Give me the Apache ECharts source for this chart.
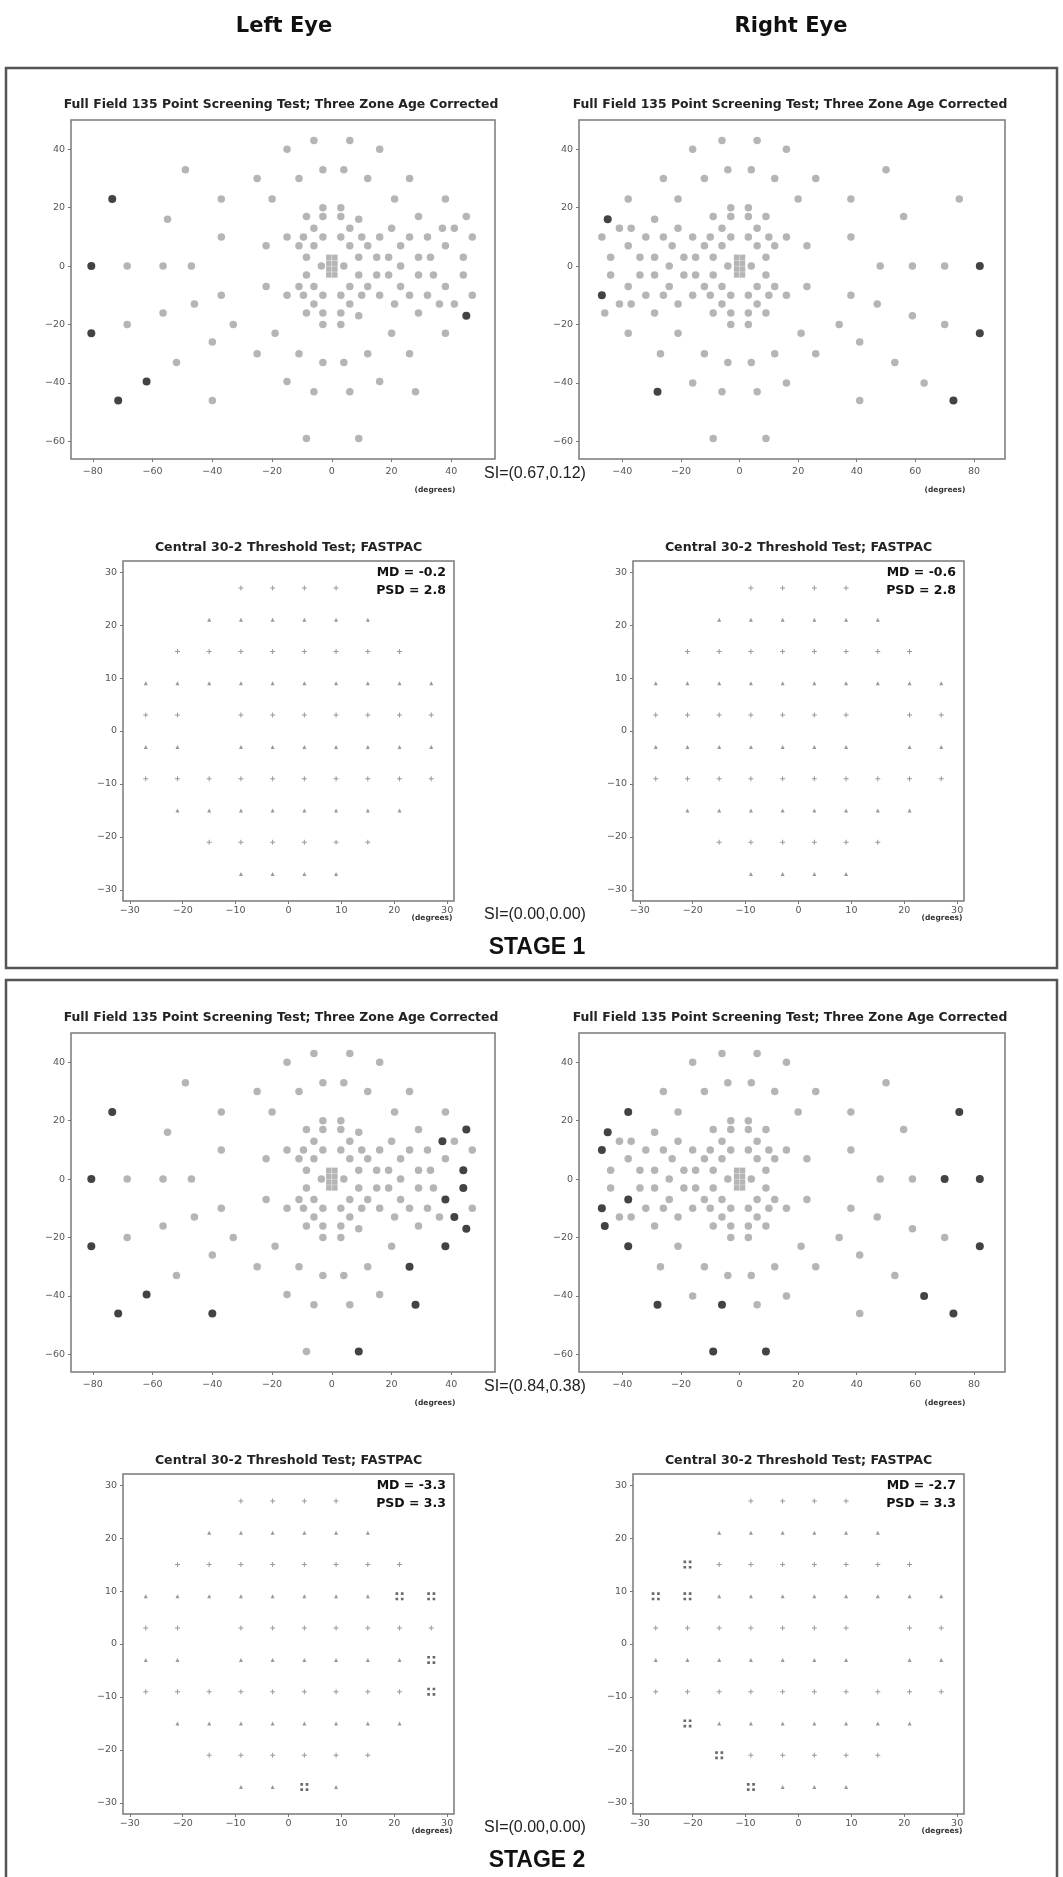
<!DOCTYPE html>
<html><head><meta charset="utf-8">
<script src="https://cdn.jsdelivr.net/npm/echarts@6/dist/echarts.min.js"></script>
<style>html,body{margin:0;padding:0;background:#fff}#c{width:1063px;height:1877px}</style>
</head><body><div id="c"></div><script>
// ---------- DATA ----------
const eyeLabels = ['Left Eye', 'Right Eye'];
const stageLabels = ['STAGE 1', 'STAGE 2'];
const ffTitle = 'Full Field 135 Point Screening Test; Three Zone Age Corrected';
const c30Title = 'Central 30-2 Threshold Test; FASTPAC';
const siFullField = ['SI=(0.67,0.12)', 'SI=(0.84,0.38)'];
const siCentral = ['SI=(0.00,0.00)', 'SI=(0.00,0.00)'];
// [stage][eye]
const mdValues = [['-0.2', '-0.6'], ['-3.3', '-2.7']];
const psdValues = [['2.8', '2.8'], ['3.3', '3.3']];

const ffLeftXTicks = [-80, -60, -40, -20, 0, 20, 40];
const ffRightXTicks = [-40, -20, 0, 20, 40, 60, 80];
const ffYTicks = [-60, -40, -20, 0, 20, 40];
const c30Ticks = [-30, -20, -10, 0, 10, 20, 30];

const ffLeftPoints = [
[-6,43],[6,43],[-15,40],[16,40],[-49,33],[-3,33],[4,33],
[-25,30],[-11,30],[12,30],[26,30],
[-73.5,23],[-37,23],[-20,23],[21,23],[38,23],
[-3,20],[3,20],
[-8.5,17],[-3,17],[3,17],[9,16],[-55,16],[29,17],[45,17],
[-6,13],[6,13],[20,13],[37,13],[41,13],
[-37,10],[-15,10],[-9.5,10],[-3,10],[3,10],[10,10],[16,10],[26,10],[32,10],[47,10],
[-22,7],[-11,7],[-6,7],[6,7],[12,7],[23,7],[38,7],
[-8.5,3],[9,3],[15,3],[19,3],[29,3],[33,3],[44,3],
[-80.5,0],[-68.5,0],[-56.5,0],[-47,0],[-3.5,0],[4,0],[23,0],
[-8.5,-3],[9,-3],[15,-3],[19,-3],[29,-3],[34,-3],[44,-3],
[-22,-7],[-11,-7],[-6,-7],[6,-7],[12,-7],[23,-7],[38,-7],
[-37,-10],[-15,-10],[-9.5,-10],[-3,-10],[3,-10],[10,-10],[16,-10],[26,-10],[32,-10],[47,-10],
[-46,-13],[-6,-13],[6,-13],[21,-13],[36,-13],[41,-13],
[-56.5,-16],[-8.5,-16],[-3,-16],[3,-16],[9,-17],[29,-16],[45,-17],
[-68.5,-20],[-33,-20],[-3,-20],[3,-20],
[-80.5,-23],[-19,-23],[20,-23],[38,-23],
[-40,-26],
[-25,-30],[-11,-30],[12,-30],[26,-30],
[-52,-33],[-3,-33],[4,-33],
[-62,-39.5],[-15,-39.5],[16,-39.5],
[-6,-43],[6,-43],[28,-43],
[-71.5,-46],[-40,-46],
[-8.5,-59],[9,-59]
];
const ffRightPoints = [
[-6,43],[6,43],[-16,40],[16,40],[-4,33],[4,33],[50,33],
[-26,30],[-12,30],[12,30],[26,30],
[-38,23],[-21,23],[20,23],[38,23],[75,23],
[-3,20],[3,20],
[-9,17],[-3,17],[3,17],[9,17],[56,17],[-45,16],[-29,16],
[-41,13],[-37,13],[-21,13],[-6,13],[6,13],
[-47,10],[-32,10],[-26,10],[-16,10],[-10,10],[-3,10],[3,10],[10,10],[16,10],[38,10],
[-38,7],[-23,7],[-12,7],[-6,7],[6,7],[12,7],[23,7],
[-44,3],[-34,3],[-29,3],[-19,3],[-15,3],[-9,3],[9,3],
[-24,0],[-4,0],[4,0],[48,0],[59,0],[70,0],[82,0],
[-44,-3],[-34,-3],[-29,-3],[-19,-3],[-15,-3],[-9,-3],[9,-3],
[-38,-7],[-24,-7],[-12,-7],[-6,-7],[6,-7],[12,-7],[23,-7],
[-47,-10],[-32,-10],[-26,-10],[-16,-10],[-10,-10],[-3,-10],[3,-10],[10,-10],[16,-10],[38,-10],
[-41,-13],[-37,-13],[-21,-13],[-6,-13],[6,-13],[47,-13],
[-46,-16],[-29,-16],[-9,-16],[-3,-16],[3,-16],[9,-16],[59,-17],
[-3,-20],[3,-20],[34,-20],[70,-20],
[-38,-23],[-21,-23],[21,-23],[82,-23],
[41,-26],
[-27,-30],[-12,-30],[12,-30],[26,-30],
[-4,-33],[4,-33],[53,-33],
[-16,-40],[16,-40],[63,-40],
[-28,-43],[-6,-43],[6,-43],
[41,-46],[73,-46],
[-9,-59],[9,-59]
];
const ffCenterPoints = [[-1,-3],[-1,-1],[-1,1],[-1,3],[1,-3],[1,-1],[1,1],[1,3]];

const ffLeftAbnStage1 = [[-73.5,23],[-80.5,0],[-80.5,-23],[-62,-39.5],[-71.5,-46],[45,-17]];
const ffRightAbnStage1 = [[-45,16],[-47,-10],[82,0],[82,-23],[-28,-43],[73,-46]];
const ffLeftAbnStage2 = [[-73.5,23],[-80.5,0],[-80.5,-23],[-62,-39.5],[-71.5,-46],[-40,-46],[9,-59],
  [45,17],[37,13],[44,3],[44,-3],[38,-7],[41,-13],[45,-17],[38,-23],[26,-30],[28,-43]];
const ffRightAbnStage2 = [[-38,23],[-45,16],[-47,10],[-38,-7],[-47,-10],[-46,-16],[-38,-23],[-28,-43],
  [-6,-43],[-9,-59],[9,-59],[75,23],[70,0],[82,0],[82,-23],[63,-40],[73,-46]];

const c30LeftPoints = [
[-9,27],[-3,27],[3,27],[9,27],
[-15,21],[-9,21],[-3,21],[3,21],[9,21],[15,21],
[-21,15],[-15,15],[-9,15],[-3,15],[3,15],[9,15],[15,15],[21,15],
[-27,9],[-21,9],[-15,9],[-9,9],[-3,9],[3,9],[9,9],[15,9],[21,9],[27,9],
[-27,3],[-21,3],[-9,3],[-3,3],[3,3],[9,3],[15,3],[21,3],[27,3],
[-27,-3],[-21,-3],[-9,-3],[-3,-3],[3,-3],[9,-3],[15,-3],[21,-3],[27,-3],
[-27,-9],[-21,-9],[-15,-9],[-9,-9],[-3,-9],[3,-9],[9,-9],[15,-9],[21,-9],[27,-9],
[-21,-15],[-15,-15],[-9,-15],[-3,-15],[3,-15],[9,-15],[15,-15],[21,-15],
[-15,-21],[-9,-21],[-3,-21],[3,-21],[9,-21],[15,-21],
[-9,-27],[-3,-27],[3,-27],[9,-27]
];
const c30RightPoints = [
[-9,27],[-3,27],[3,27],[9,27],
[-15,21],[-9,21],[-3,21],[3,21],[9,21],[15,21],
[-21,15],[-15,15],[-9,15],[-3,15],[3,15],[9,15],[15,15],[21,15],
[-27,9],[-21,9],[-15,9],[-9,9],[-3,9],[3,9],[9,9],[15,9],[21,9],[27,9],
[-27,3],[-21,3],[-15,3],[-9,3],[-3,3],[3,3],[9,3],[21,3],[27,3],
[-27,-3],[-21,-3],[-15,-3],[-9,-3],[-3,-3],[3,-3],[9,-3],[21,-3],[27,-3],
[-27,-9],[-21,-9],[-15,-9],[-9,-9],[-3,-9],[3,-9],[9,-9],[15,-9],[21,-9],[27,-9],
[-21,-15],[-15,-15],[-9,-15],[-3,-15],[3,-15],[9,-15],[15,-15],[21,-15],
[-15,-21],[-9,-21],[-3,-21],[3,-21],[9,-21],[15,-21],
[-9,-27],[-3,-27],[3,-27],[9,-27]
];
const c30LeftAbnStage1 = [];
const c30RightAbnStage1 = [];
const c30LeftAbnStage2 = [[21,9],[27,9],[27,-3],[27,-9],[3,-27]];
const c30RightAbnStage2 = [[-21,15],[-27,9],[-21,9],[-21,-15],[-15,-21],[-9,-27]];

// ---------- LAYOUT ----------
const STAGE_DY = 913;
const FF_TOP = 120, FF_H = 339;
const C30_TOP = 561, C30_H = 340;
const panelsLayout = [
  {kind:'ff', eye:0, left:71, width:424, xmin:-87.3, xmax:54.6, xticks:ffLeftXTicks},
  {kind:'ff', eye:1, left:579, width:426, xmin:-54.8, xmax:90.6, xticks:ffRightXTicks},
  {kind:'c30', eye:0, left:123, width:331},
  {kind:'c30', eye:1, left:633, width:331}
];
const ffPoints = [ffLeftPoints, ffRightPoints];
const ffAbn = [[ffLeftAbnStage1, ffRightAbnStage1], [ffLeftAbnStage2, ffRightAbnStage2]];
const c30Points = [c30LeftPoints, c30RightPoints];
const c30Abn = [[c30LeftAbnStage1, c30RightAbnStage1], [c30LeftAbnStage2, c30RightAbnStage2]];

const fmt = v => (v < 0 ? '\u2212' + (-v) : String(v));
const same = (a, b) => a[0] === b[0] && a[1] === b[1];
const notIn = (arr, list) => arr.filter(p => !list.some(q => same(p, q)));

const grids = [], xAxes = [], yAxes = [], series = [], graphics = [];
const labelStyle = {fontFamily:'DejaVu Sans', fontSize:9.5, color:'#555'};
const BOLD = '"DejaVu Sans"';

for (let s = 0; s < 2; s++) {
  const dy = s * STAGE_DY;
  panelsLayout.forEach((p) => {
    const idx = grids.length;
    const isFF = p.kind === 'ff';
    const top = (isFF ? FF_TOP : C30_TOP) + dy;
    const height = isFF ? FF_H : C30_H;
    grids.push({left:p.left, top:top, width:p.width, height:height, show:true,
      borderColor:'#7a7a7a', borderWidth:1.5, backgroundColor:'transparent', containLabel:false});
    const xt = isFF ? p.xticks : c30Ticks;
    const yt = isFF ? ffYTicks : c30Ticks;
    xAxes.push({type:'value', gridIndex:idx, min:isFF ? p.xmin : -31.3, max:isFF ? p.xmax : 31.3,
      axisLine:{show:false, onZero:false}, splitLine:{show:false},
      axisTick:{show:true, length:3, lineStyle:{color:'#777'}, customValues:xt},
      axisLabel:Object.assign({customValues:xt, formatter:fmt, margin:isFF ? 8 : 5}, labelStyle)});
    yAxes.push({type:'value', gridIndex:idx, min:isFF ? -66 : -32.1, max:isFF ? 50 : 32.1,
      axisLine:{show:false, onZero:false}, splitLine:{show:false},
      axisTick:{show:true, length:3, lineStyle:{color:'#777'}, customValues:yt},
      axisLabel:Object.assign({customValues:yt, formatter:fmt, margin:6}, labelStyle)});
    const cx = p.left + p.width / 2;
    if (isFF) {
      const abn = ffAbn[s][p.eye];
      series.push({type:'scatter', xAxisIndex:idx, yAxisIndex:idx, symbol:'circle', symbolSize:7.5,
        itemStyle:{color:'#a3a3a3'}, data:notIn(ffPoints[p.eye], abn), silent:true});
      series.push({type:'scatter', xAxisIndex:idx, yAxisIndex:idx, symbol:'rect', symbolSize:5.5,
        itemStyle:{color:'#a3a3a3'}, data:ffCenterPoints, silent:true});
      series.push({type:'scatter', xAxisIndex:idx, yAxisIndex:idx, symbol:'circle', symbolSize:8,
        itemStyle:{color:'#141414'}, data:abn, silent:true});
      graphics.push({type:'text', x:cx - 2, y:top - 15, style:{text:ffTitle, font:'bold 12.4px ' + BOLD, fill:'#222', align:'center', verticalAlign:'middle'}});
      graphics.push({type:'text', x:p.left + p.width - 60, y:top + height + 31, style:{text:'(degrees)', font:'bold 7.5px ' + BOLD, fill:'#333', align:'center', verticalAlign:'middle'}});
    } else {
      const abn = c30Abn[s][p.eye];
      series.push({type:'scatter', xAxisIndex:idx, yAxisIndex:idx,
        symbol:(v) => (Math.round((27 - v[1]) / 6) % 2 === 0 ? 'path://M2,0H3V5H2Z M0,2H5V3H0Z' : 'triangle'),
        symbolSize:(v) => (Math.round((27 - v[1]) / 6) % 2 === 0 ? 5 : 4),
        itemStyle:{color:'#7f7f7f'}, data:notIn(c30Points[p.eye], abn), silent:true});
      series.push({type:'scatter', xAxisIndex:idx, yAxisIndex:idx,
        symbol:'path://M0,0H2V2H0Z M4,0H6V2H4Z M0,4H2V6H0Z M4,4H6V6H4Z', symbolSize:8,
        itemStyle:{color:'#444'}, data:abn, silent:true});
      graphics.push({type:'text', x:cx, y:top - 13, style:{text:c30Title, font:'bold 12.6px ' + BOLD, fill:'#222', align:'center', verticalAlign:'middle'}});
      graphics.push({type:'text', x:p.left + p.width - 8, y:top + 12, style:{text:'MD = ' + mdValues[s][p.eye], font:'bold 12.5px ' + BOLD, fill:'#111', align:'right', verticalAlign:'middle'}});
      graphics.push({type:'text', x:p.left + p.width - 8, y:top + 30, style:{text:'PSD = ' + psdValues[s][p.eye], font:'bold 12.5px ' + BOLD, fill:'#111', align:'right', verticalAlign:'middle'}});
      graphics.push({type:'text', x:p.left + p.width - 22, y:top + height + 17, style:{text:'(degrees)', font:'bold 7.5px ' + BOLD, fill:'#333', align:'center', verticalAlign:'middle'}});
    }
  });
  graphics.push({type:'rect', shape:{x:6, y:68 + s * 912, width:1051, height:s === 0 ? 900 : 920},
    style:{fill:'none', stroke:'#555', lineWidth:2.5}});
  graphics.push({type:'text', x:535, y:474 + dy, style:{text:siFullField[s], font:'16px "Liberation Sans"', fill:'#222', align:'center', verticalAlign:'middle'}});
  graphics.push({type:'text', x:535, y:915 + dy, style:{text:siCentral[s], font:'16px "Liberation Sans"', fill:'#222', align:'center', verticalAlign:'middle'}});
  graphics.push({type:'text', x:537, y:948 + dy, style:{text:stageLabels[s], font:'bold 23px "Liberation Sans"', fill:'#111', align:'center', verticalAlign:'middle'}});
}
graphics.push({type:'text', x:284, y:27, style:{text:eyeLabels[0], font:'bold 21px ' + BOLD, fill:'#111', align:'center', verticalAlign:'middle'}});
graphics.push({type:'text', x:791, y:27, style:{text:eyeLabels[1], font:'bold 21px ' + BOLD, fill:'#111', align:'center', verticalAlign:'middle'}});

const chart = echarts.init(document.getElementById('c'), null, {renderer:'canvas'});
chart.setOption({
  animation:false,
  backgroundColor:'#fff',
  grid:grids, xAxis:xAxes, yAxis:yAxes, series:series,
  graphic:{elements:graphics}
});
</script></body></html>
